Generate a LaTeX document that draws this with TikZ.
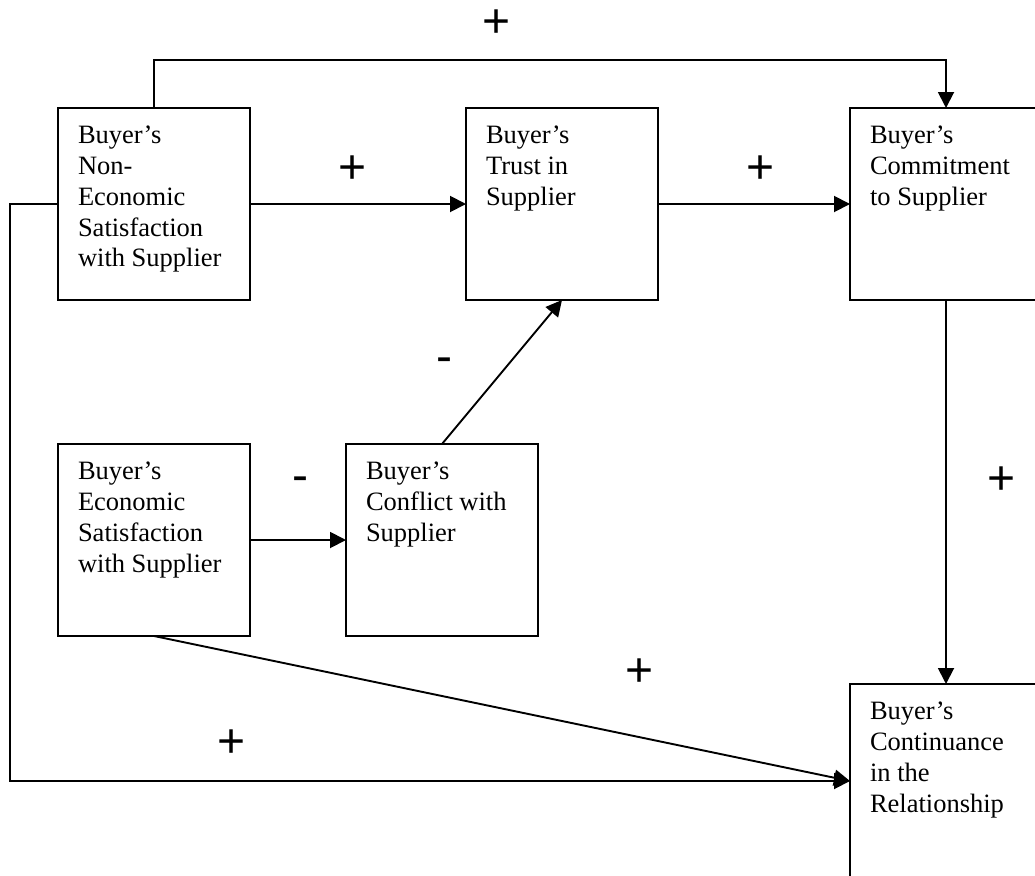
\documentclass[tikz,border=0pt]{standalone}
\usepackage{fontspec}
\setmainfont{Liberation Serif}
\newfontfamily\signfont{Liberation Sans}
\usetikzlibrary{arrows.meta}

\tikzset{
  construct/.style={draw, line width=1.9pt, rectangle, anchor=north west,
    inner xsep=20pt, inner ysep=18pt, outer sep=0pt,
    font=\fontsize{26.5}{30.8}\selectfont},
  link/.style={line width=1.9pt, -{Triangle[length=16pt,width=16pt]}},
  sign/.style={font=\signfont\fontsize{48}{48}\selectfont, inner sep=0pt}
}
% fixed-size text block for each construct box
\newcommand{\boxtext}[2][156pt]{\parbox[c][#1][t]{152pt}{\raggedright #2}}

\begin{document}
\begin{tikzpicture}[x=1pt,y=-1pt]
  \useasboundingbox (0,0) rectangle (1035,875);
  \clip (0,0) rectangle (1035,875);

  % constructs
  \node[construct] (nes) at (58,108)
    {\boxtext{Buyer’s\\Non-\\Economic\\Satisfaction\\with Supplier}};
  \node[construct] (trust) at (466,108)
    {\boxtext{Buyer’s\\Trust in\\Supplier}};
  \node[construct] (commit) at (850,108)
    {\boxtext{Buyer’s\\Commitment\\to Supplier}};
  \node[construct] (econ) at (58,444)
    {\boxtext{Buyer’s\\Economic\\Satisfaction\\with Supplier}};
  \node[construct] (conflict) at (346,444)
    {\boxtext{Buyer’s\\Conflict with\\Supplier}};
  \node[construct] (cont) at (850,684)
    {\boxtext[158pt]{Buyer’s\\Continuance\\in the\\Relationship}};

  % paths
  \draw[link] (nes.north) -- ++(0,-48) -| (commit.north);
  \draw[link] (nes.east) -- (trust.west);
  \draw[link] (trust.east) -- (commit.west);
  \draw[link] (conflict.north) -- (trust.south);
  \draw[link] (econ.east) -- (conflict.west);
  \draw[link] (commit.south) -- (cont.north);
  \draw[link] (econ.south) -- (cont.west);
  \draw[link] (nes.west) -- ++(-48,0) |- (cont.west);

  % path signs
  \node[sign] (s1) at (497,24) {+};
  \node[sign] (s2) at (353,170) {+};
  \node[sign] (s3) at (761,170) {+};
  \node[sign] (s4) at (444,365) {-};
  \node[sign] (s5) at (300,484) {-};
  \node[sign] (s6) at (1001,481) {+};
  \node[sign] (s7) at (640,673) {+};
  \node[sign] (s8) at (232,744) {+};
\end{tikzpicture}
\end{document}
